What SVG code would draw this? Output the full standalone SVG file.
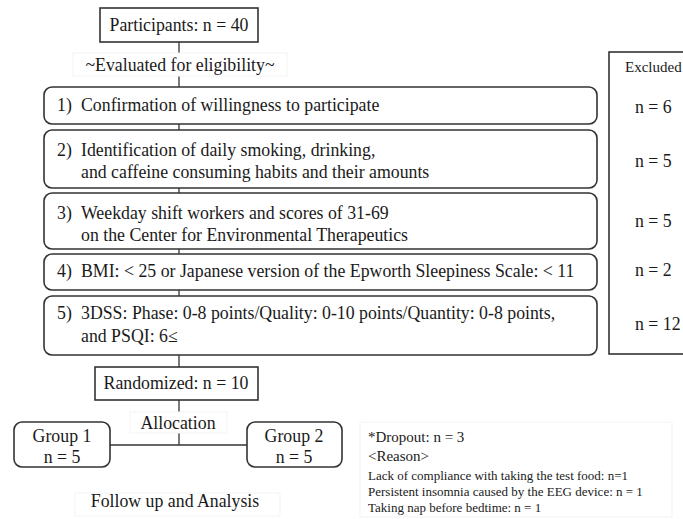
<svg xmlns="http://www.w3.org/2000/svg" width="683" height="519" viewBox="0 0 683 519">
<style>
text{font-family:"Liberation Serif","Times New Roman",serif;fill:#1a1a1a;font-size:17.8px}
.box{fill:#fff;stroke:#333;stroke-width:1.6}
.lbl{fill:#fff;stroke:#f3f3f3;stroke-width:1}
.c{text-anchor:middle}
.sm{font-size:13px}
.md{font-size:15px}
.conn line{stroke:#333;stroke-width:1.3}
</style>
<rect width="683" height="519" fill="#fff"/>
<g class="conn">
<line x1="179" y1="42" x2="179" y2="87"/>
<line x1="179" y1="124" x2="179" y2="130"/>
<line x1="179" y1="188" x2="179" y2="193"/>
<line x1="179" y1="249" x2="179" y2="254"/>
<line x1="179" y1="290" x2="179" y2="296"/>
<line x1="179" y1="355" x2="179" y2="367"/>
<line x1="179" y1="400" x2="179" y2="445"/>
<line x1="110" y1="445" x2="247" y2="445"/>
</g>
<g id="participants">
<rect class="box" x="100" y="8" width="158" height="34"/>
<text class="c" x="179" y="31">Participants: n = 40</text>
</g>
<g id="eligibility">
<rect class="lbl" x="73" y="53" width="214" height="23"/>
<text class="c" x="180" y="71">~Evaluated for eligibility~</text>
</g>
<g id="criterion1">
<rect class="box" x="44" y="87" width="553" height="37" rx="8"/>
<text x="57" y="111">1)<tspan x="81">Confirmation of willingness to participate</tspan></text>
</g>
<g id="criterion2">
<rect class="box" x="44" y="130" width="553" height="58" rx="8"/>
<text x="57" y="156">2)<tspan x="81">Identification of daily smoking, drinking,</tspan></text>
<text x="81" y="178">and caffeine consuming habits and their amounts</text>
</g>
<g id="criterion3">
<rect class="box" x="44" y="193" width="553" height="56" rx="8"/>
<text x="57" y="219">3)<tspan x="81">Weekday shift workers and scores of 31-69</tspan></text>
<text x="81" y="241">on the Center for Environmental Therapeutics</text>
</g>
<g id="criterion4">
<rect class="box" x="44" y="254" width="553" height="36" rx="8"/>
<text x="57" y="277">4)<tspan x="81">BMI: &lt; 25 or Japanese version of the Epworth Sleepiness Scale: &lt; 11</tspan></text>
</g>
<g id="criterion5">
<rect class="box" x="44" y="296" width="553" height="59" rx="8"/>
<text x="57" y="319">5)<tspan x="81">3DSS: Phase: 0-8 points/Quality: 0-10 points/Quantity: 0-8 points,</tspan></text>
<text x="81" y="342">and PSQI: 6≤</text>
</g>
<g id="excluded">
<rect class="box" x="609" y="52" width="90" height="302"/>
<text class="md" x="625" y="72">Excluded</text>
<text x="635" y="113">n = 6</text>
<text x="635" y="167">n = 5</text>
<text x="635" y="227">n = 5</text>
<text x="635" y="276">n = 2</text>
<text x="635" y="330">n = 12</text>
</g>
<g id="randomized">
<rect class="box" x="95" y="367" width="163" height="33"/>
<text class="c" x="176" y="389">Randomized: n = 10</text>
</g>
<g id="allocation">
<rect class="lbl" x="130" y="412" width="97" height="21"/>
<text class="c" x="178" y="429">Allocation</text>
</g>
<g id="group1">
<rect class="box" x="14" y="422" width="96" height="45" rx="8"/>
<text class="c" x="62" y="442">Group 1</text>
<text class="c" x="62" y="463">n = 5</text>
</g>
<g id="group2">
<rect class="box" x="247" y="422" width="95" height="45" rx="8"/>
<text class="c" x="294" y="442">Group 2</text>
<text class="c" x="294" y="463">n = 5</text>
</g>
<g id="followup">
<rect class="lbl" x="75" y="493" width="205" height="23"/>
<text class="c" x="175" y="507">Follow up and Analysis</text>
</g>
<g id="dropout">
<rect class="lbl" x="360" y="422" width="312" height="95"/>
<text class="md" x="368" y="442">*Dropout: n = 3</text>
<text class="md" x="368" y="461">&lt;Reason&gt;</text>
<text class="sm" x="368" y="480">Lack of compliance with taking the test food: n=1</text>
<text class="sm" x="368" y="496">Persistent insomnia caused by the EEG device: n = 1</text>
<text class="sm" x="368" y="512">Taking nap before bedtime: n = 1</text>
</g>
</svg>
